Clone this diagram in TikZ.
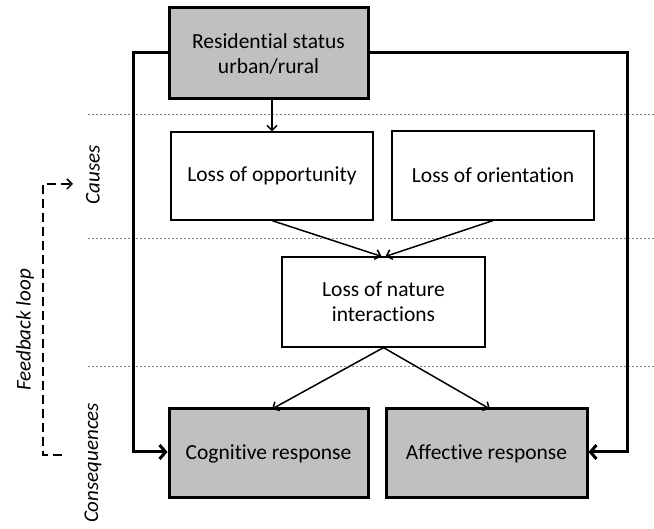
\documentclass[tikz,border=0pt]{standalone}
\usepackage{fontspec}
\setmainfont[Ligatures={NoCommon,NoRequired,NoContextual}]{Carlito}
\usetikzlibrary{arrows.meta}
\definecolor{boxgray}{HTML}{C0C0C0}
\begin{document}
\begin{tikzpicture}[x=1pt,y=-1pt,
  thickbox/.style={draw,line width=3pt,fill=boxgray,inner sep=0pt,align=center,font=\fontsize{21.5}{25}\selectfont},
  thinbox/.style={draw,line width=1.2pt,fill=white,inner sep=0pt,align=center,font=\fontsize{21.5}{25}\selectfont},
  thinarrow/.style={line width=1.5pt,-{Straight Barb[length=5pt,width=10pt]}},
  thickarrow/.style={line width=3pt,-{Straight Barb[length=6pt,width=14pt]}},
  sep/.style={gray,dashed,line width=0.7pt,dash pattern=on 2pt off 2pt},
  sidelabel/.style={rotate=90,font=\fontsize{21}{25}\selectfont\itshape}]
\useasboundingbox (0,0) rectangle (654,529);
% separator lines
\draw[sep] (88,114) -- (654,114);
\draw[sep] (88,238) -- (654,238);
\draw[sep] (88,366) -- (654,366);
% nodes
\node[thickbox,minimum width=199pt,minimum height=91pt] (res) at (268.5,53.5) {Residential status\\urban/rural};
\node[thinbox,minimum width=202pt,minimum height=88pt] (opp) at (272,176) {Loss of opportunity};
\node[thinbox,minimum width=202pt,minimum height=89pt] (ori) at (493,175.5) {Loss of orientation};
\node[thinbox,minimum width=203pt,minimum height=90pt] (nat) at (383.5,302) {Loss of nature\\interactions};
\node[thickbox,minimum width=199pt,minimum height=89pt] (cog) at (268.5,453.5) {Cognitive response};
\node[thickbox,minimum width=201pt,minimum height=89pt] (aff) at (486.5,453.5) {Affective response};
% connectors
\draw[thinarrow] (res.south -| opp.north) -- (opp.north);
\draw[thinarrow] (opp.south) -- ([xshift=-2pt]nat.north);
\draw[thinarrow] (ori.south) -- ([xshift=2pt]nat.north);
\draw[thinarrow] (nat.south) -- (272,409);
\draw[thinarrow] (nat.south) -- (490,409);
\coordinate (lt) at (133,53);
\coordinate (lb) at (133,452);
\coordinate (rt) at (627,53);
\coordinate (rb) at (627,452);
\draw[thickarrow,line join=miter] (res.west |- lt) -- (lt) -- (lb) -- (cog.west |- lb);
\draw[thickarrow,line join=miter] (res.east |- rt) -- (rt) -- (rb) -- (aff.east |- rb);
% side labels
\node[sidelabel] (causes) at (93,175) {Causes};
\node[sidelabel] (cons) at (93,463) {Consequences};
\node[sidelabel] (fb) at (25,330) {Feedback loop};
% feedback bracket
\coordinate (ft) at (43,184);
\coordinate (fb1) at (43,455);
\coordinate (fa) at (73,184);
\coordinate (fe) at (62,455);
\draw[line width=1.5pt,dash pattern=on 9pt off 5pt,-{Straight Barb[length=5pt,width=10pt]}] (fe) -- (fb1) -- (ft) -- (fa);
\end{tikzpicture}
\end{document}
